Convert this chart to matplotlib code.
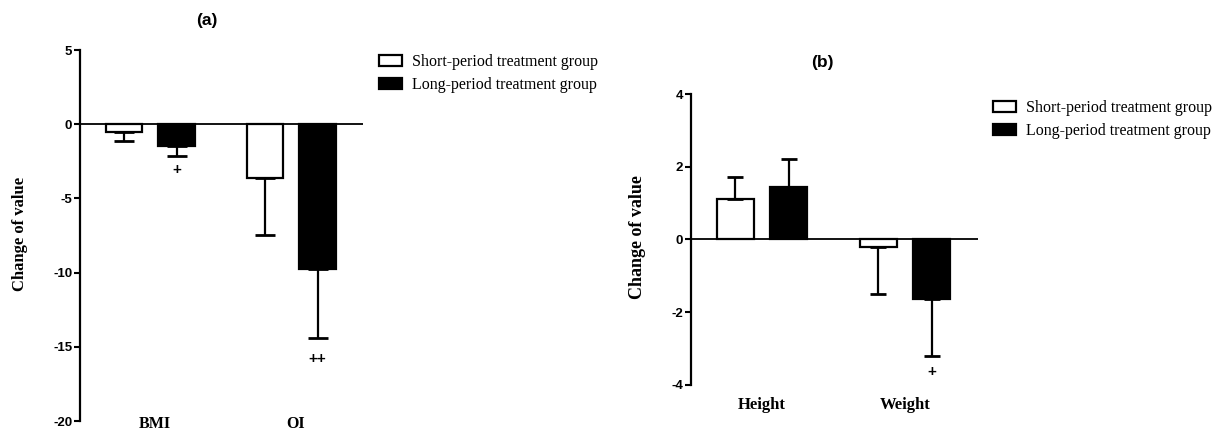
import matplotlib
matplotlib.use("Agg")
import matplotlib.pyplot as plt
import matplotlib.transforms as mtransforms
import numpy as np

# ---- data ----
cats_a = ["BMI", "OI"]
short_a = [-0.55, -3.65]
short_a_err = [0.55, 3.8]
long_a = [-1.45, -9.75]
long_a_err = [0.7, 4.65]
marks_a = ["", "", "+", "++"]  # short BMI, short OI, long BMI, long OI

cats_b = ["Height", "Weight"]
short_b = [1.11, -0.22]
short_b_err = [0.61, 1.29]
long_b = [1.44, -1.63]
long_b_err = [0.77, 1.58]
marks_b_long = ["", "+"]

series_labels = ["Short-period treatment group", "Long-period treatment group"]
yticks_a = [-20, -15, -10, -5, 0, 5]
yticks_b = [-4, -2, 0, 2, 4]

W, H = 1222, 432
fig = plt.figure(figsize=(W / 100, H / 100), dpi=100)

SANS = "Liberation Sans"
SERIF = "Liberation Serif"

def px_ax(l, r, t, b):
    return [l / W, 1 - b / H, (r - l) / W, (b - t) / H]

def draw_panel(ax, cats, s_vals, s_err, l_vals, l_err, ylim, yticks, capsize, show_xlabels=True):
    x = np.arange(len(cats))
    off = 0.187
    wd = 0.26
    s_vals = np.array(s_vals); l_vals = np.array(l_vals)
    s_err = np.array(s_err); l_err = np.array(l_err)
    b1 = ax.bar(x - off, s_vals, wd, color="white", edgecolor="black", linewidth=1.6, zorder=2,
                label=series_labels[0])
    b2 = ax.bar(x + off, l_vals, wd, color="black", edgecolor="black", linewidth=1.6, zorder=2,
                label=series_labels[1])
    for xs, v, e in ((x - off, s_vals, s_err), (x + off, l_vals, l_err)):
        lower = np.where(v < 0, e, 0)
        upper = np.where(v >= 0, e, 0)
        ax.errorbar(xs, v, yerr=[lower, upper], fmt="none", ecolor="black", elinewidth=1.6,
                    capsize=capsize, capthick=2.0, zorder=3)
    ax.axhline(0, color="black", linewidth=1.3, zorder=4)
    ax.set_xlim(-0.5, 1.51)
    ax.set_ylim(*ylim)
    ax.set_yticks(yticks)
    ax.set_yticklabels([str(t) for t in yticks], fontfamily=SANS, fontweight="bold", fontsize=9.5)
    for s in ("top", "right", "bottom"):
        ax.spines[s].set_visible(False)
    ax.spines["left"].set_linewidth(1.6)
    ax.tick_params(axis="y", direction="out", length=4.5, width=1.5, pad=1)
    ax.set_xticks(x)
    if show_xlabels:
        ax.set_xticklabels(cats, fontfamily=SERIF, fontweight="bold", fontsize=12)
    else:
        ax.set_xticklabels([""] * len(cats))
    ax.tick_params(axis="x", length=0)
    return b1, b2

# panel a
ax1 = fig.add_axes(px_ax(80, 363, 50, 421))
b1, b2 = draw_panel(ax1, cats_a, short_a, short_a_err, long_a, long_a_err, (-20, 5), yticks_a, 7,
                    show_xlabels=False)
xa = np.arange(len(cats_a))
blend = mtransforms.blended_transform_factory(ax1.transData, fig.transFigure)
for xi, c in zip(xa, cats_a):
    ax1.text(xi + 0.03, 0.5 / H, c, transform=blend, ha="center", va="bottom",
             fontfamily=SERIF, fontweight="bold", fontsize=11.5, clip_on=False)
ax1.text(xa[0] + 0.187, long_a[0] - long_a_err[0] - 0.95, marks_a[2], ha="center", va="center",
         fontsize=11, fontweight="bold", fontfamily=SANS)
ax1.text(xa[1] + 0.187, long_a[1] - long_a_err[1] - 1.45, marks_a[3], ha="center", va="center",
         fontsize=11, fontweight="bold", fontfamily=SANS)
fig.text(20 / W, 1 - 234 / H, "Change of value", rotation=90, ha="center", va="center",
         fontfamily=SERIF, fontweight="bold", fontsize=12)
fig.text(207 / W, 1 - 20 / H, "(a)", ha="center", va="center", fontfamily=SANS,
         fontweight="bold", fontsize=12.5)
fig.legend(handles=[b1, b2], labels=series_labels, loc="upper left",
           bbox_to_anchor=(379 / W, 1 - 54 / H), frameon=False, borderpad=0, borderaxespad=0,
           handlelength=1.45, handleheight=0.75, handletextpad=0.6, labelspacing=0.45,
           prop={"family": SERIF, "size": 11.5})

# panel b
ax2 = fig.add_axes(px_ax(690.7, 977.7, 94, 384.7))
c1, c2 = draw_panel(ax2, cats_b, short_b, short_b_err, long_b, long_b_err, (-4, 4), yticks_b, 6)
ax2.tick_params(axis="x", pad=9)
xb = np.arange(len(cats_b))
ax2.text(xb[1] + 0.187, long_b[1] - long_b_err[1] - 0.45, marks_b_long[1], ha="center", va="center",
         fontsize=11, fontweight="bold", fontfamily=SANS)
fig.text(638 / W, 1 - 237 / H, "Change of value", rotation=90, ha="center", va="center",
         fontfamily=SERIF, fontweight="bold", fontsize=13)
fig.text(822 / W, 1 - 62 / H, "(b)", ha="center", va="center", fontfamily=SANS,
         fontweight="bold", fontsize=12.5)
fig.legend(handles=[c1, c2], labels=series_labels, loc="upper left",
           bbox_to_anchor=(993 / W, 1 - 100 / H), frameon=False, borderpad=0, borderaxespad=0,
           handlelength=1.45, handleheight=0.75, handletextpad=0.6, labelspacing=0.45,
           prop={"family": SERIF, "size": 11.5})

fig.savefig("out.png", dpi=100)
